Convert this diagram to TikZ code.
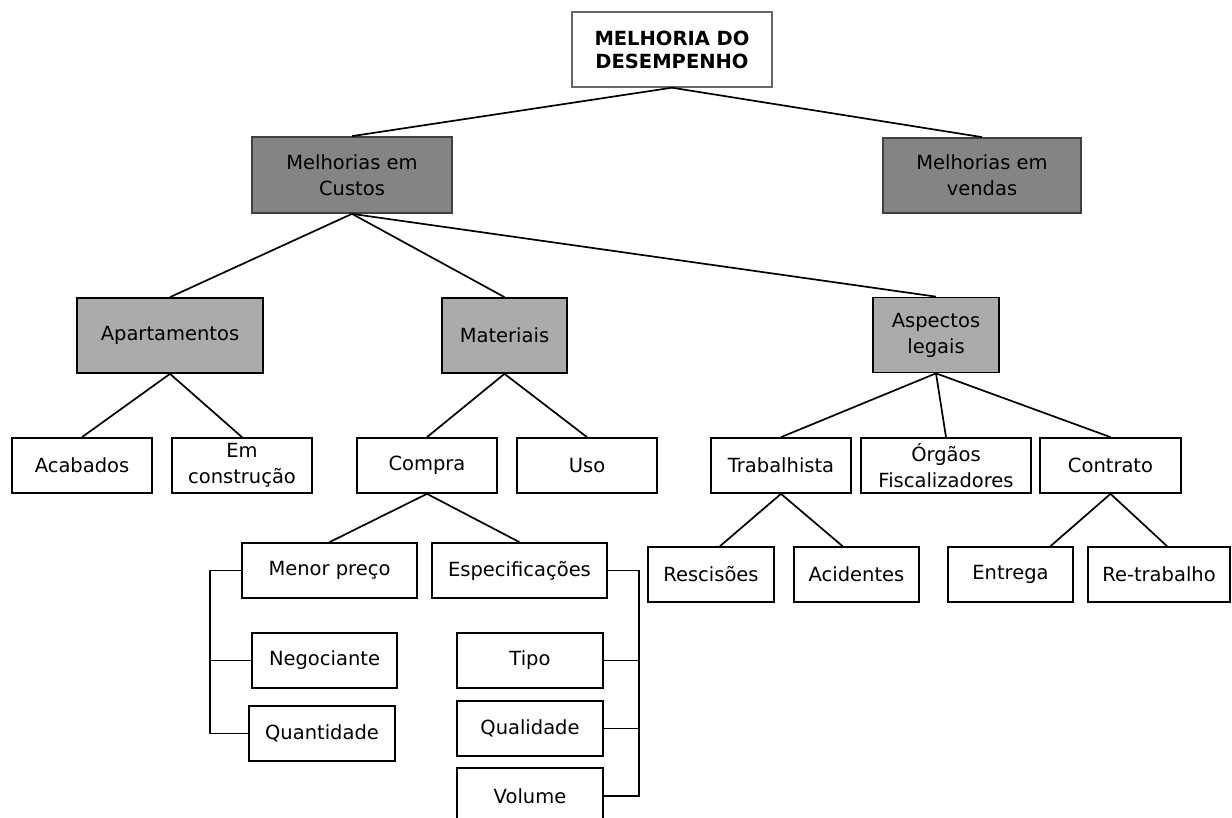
\documentclass[tikz,border=0pt]{standalone}
\usepackage{fontspec}
\setmainfont{DejaVu Sans}
\usetikzlibrary{calc}
\definecolor{darkfill}{RGB}{132,132,132}
\definecolor{lightfill}{RGB}{171,171,171}
\begin{document}
\begin{tikzpicture}[x=1pt,y=-1pt,
  box/.style={draw=black, line width=1.7pt, fill=white, inner sep=0pt, align=center,
    font=\fontsize{19.5}{26}\selectfont},
  topbox/.style={box, draw=black!60, line width=1.4pt, font=\fontsize{19.5}{23}\selectfont\bfseries},
  darkbox/.style={box, fill=darkfill, draw=black!75},
  lightbox/.style={box, fill=lightfill},
  link/.style={line width=1.7pt}]
\useasboundingbox (0,0) rectangle (1232,818);

% level 0 and 1
\node[topbox, minimum width=200pt, minimum height=75pt] (top) at (672,49.5) {MELHORIA DO\\DESEMPENHO};
\node[darkbox, minimum width=200pt, minimum height=76pt] (custos) at (352,175) {Melhorias em\\Custos};
\node[darkbox, minimum width=198pt, minimum height=75pt] (vendas) at (982,175.5) {Melhorias em\\vendas};

% level 2
\node[lightbox, minimum width=186pt, minimum height=75pt] (apart) at (170,335.5) {Apartamentos};
\node[lightbox, minimum width=125pt, minimum height=75pt] (mat) at (504.5,335.5) {Materiais};
\node[lightbox, minimum width=126pt, minimum height=75pt] (asp) at (936,335) {Aspectos\\legais};

% level 3
\node[box, minimum width=140pt, minimum height=55pt] (acab) at (82,465.5) {Acabados};
\node[box, minimum width=140pt, minimum height=55pt] (emcons) at (242,465.5) {Em\\construção};
\node[box, minimum width=140pt, minimum height=55pt] (compra) at (427,465.5) {Compra};
\node[box, minimum width=140pt, minimum height=55pt] (uso) at (587,465.5) {Uso};
\node[box, minimum width=140pt, minimum height=55pt] (trab) at (781,465.5) {Trabalhista};
\node[box, minimum width=170pt, minimum height=55pt] (orgaos) at (946,465.5) {Órgãos\\Fiscalizadores};
\node[box, minimum width=141pt, minimum height=55pt] (contrato) at (1110.5,465.5) {Contrato};

% level 4
\node[box, minimum width=175pt, minimum height=55pt] (menor) at (329.5,570.5) {Menor preço};
\node[box, minimum width=175pt, minimum height=55pt] (espec) at (519.5,570.5) {Especificações};
\node[box, minimum width=126pt, minimum height=55pt] (resc) at (711,574.5) {Rescisões};
\node[box, minimum width=125pt, minimum height=55pt] (acid) at (856.5,574.5) {Acidentes};
\node[box, minimum width=125pt, minimum height=55pt] (entrega) at (1010.5,574.5) {Entrega};
\node[box, minimum width=142pt, minimum height=55pt] (retrab) at (1159,574.5) {Re-trabalho};

% level 5
\node[box, minimum width=145pt, minimum height=55pt] (neg) at (324.5,660.5) {Negociante};
\node[box, minimum width=146pt, minimum height=55pt] (quant) at (322,733.5) {Quantidade};
\node[box, minimum width=146pt, minimum height=55pt] (tipo) at (530,660.5) {Tipo};
\node[box, minimum width=146pt, minimum height=55pt] (qual) at (530,728.5) {Qualidade};
\node[box, minimum width=146pt, minimum height=56pt] (vol) at (530,796) {Volume};

% tree connectors
\draw[link] (top.south) -- (custos.north);
\draw[link] (top.south) -- (vendas.north);
\draw[link] (custos.south) -- (apart.north);
\draw[link] (custos.south) -- (mat.north);
\draw[link] (custos.south) -- (asp.north);
\draw[link] (apart.south) -- (acab.north);
\draw[link] (apart.south) -- (emcons.north);
\draw[link] (mat.south) -- (compra.north);
\draw[link] (mat.south) -- (uso.north);
\draw[link] (asp.south) -- (trab.north);
\draw[link] (asp.south) -- (orgaos.north);
\draw[link] (asp.south) -- (contrato.north);
\draw[link] (compra.south) -- (menor.north);
\draw[link] (compra.south) -- (espec.north);
\draw[link] (trab.south) -- ([xshift=9pt]resc.north);
\draw[link] (trab.south) -- ([xshift=-14pt]acid.north);
\draw[link] (contrato.south) -- ([xshift=40pt]entrega.north);
\draw[link] (contrato.south) -- ([xshift=8pt]retrab.north);

% bracket connectors
\coordinate (lb) at (210,0);
\coordinate (rb) at (639,0);
\draw[link] (menor.west) -- (menor.west -| lb) |- (quant.west);
\draw[link] (neg.west) -- (neg.west -| lb);
\draw[link] (espec.east) -- (espec.east -| rb) |- (vol.east);
\draw[link] (tipo.east) -- (tipo.east -| rb);
\draw[link] (qual.east) -- (qual.east -| rb);
\end{tikzpicture}
\end{document}
